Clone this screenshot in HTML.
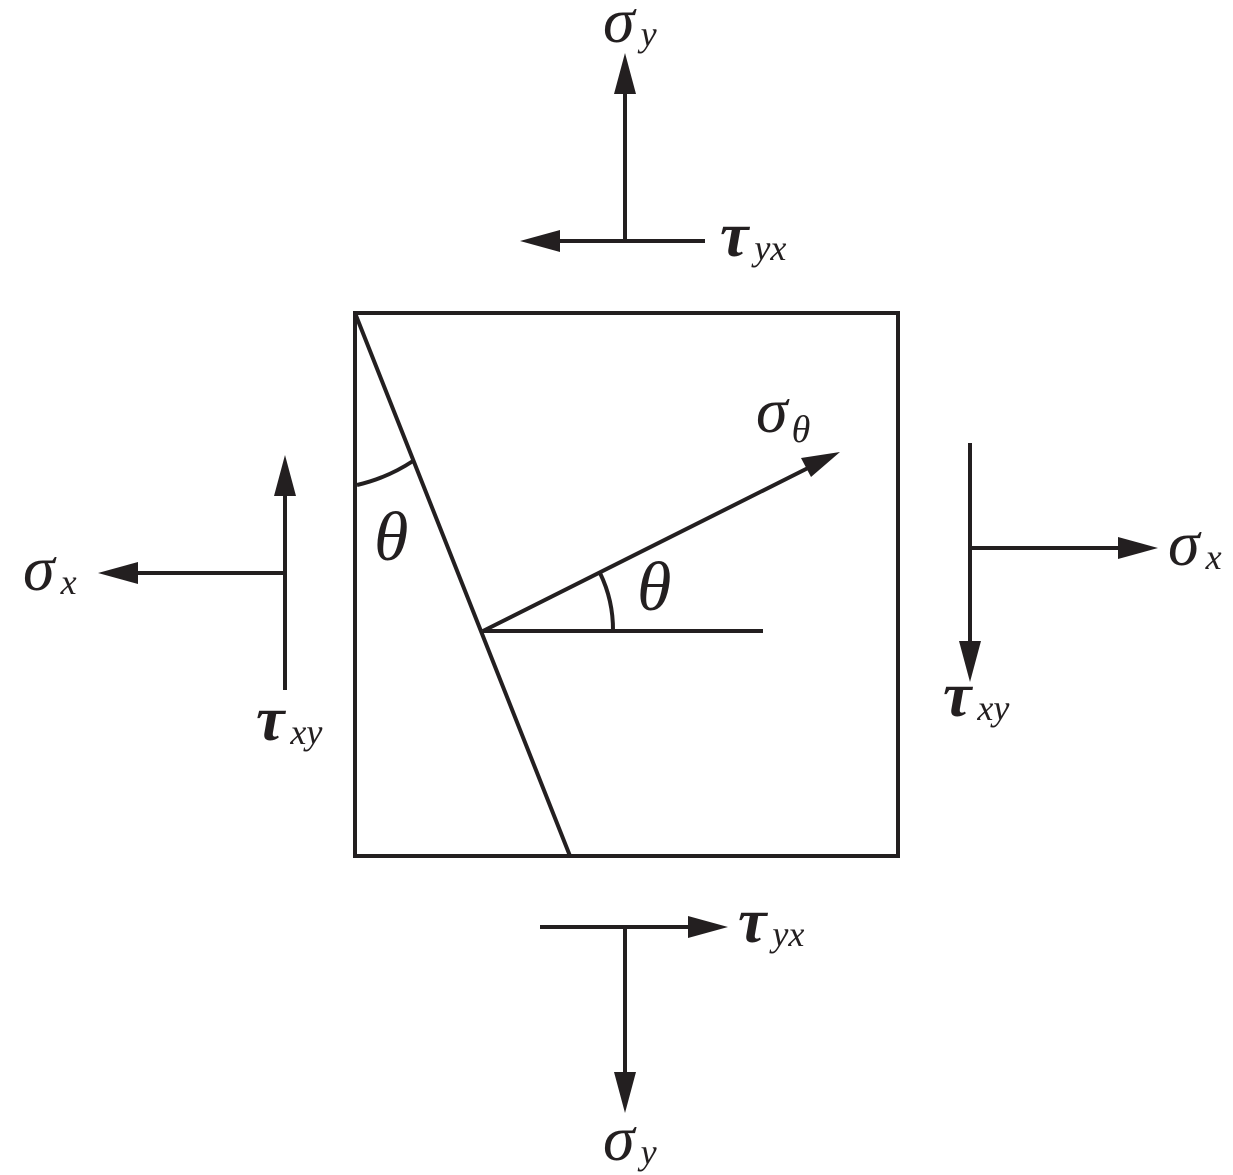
<!DOCTYPE html>
<html><head><meta charset="utf-8"><style>
html,body{margin:0;padding:0;background:#fff}
svg{display:block}
text{font-family:"Liberation Serif",serif;font-style:italic;fill:#231f20}
.b{font-weight:bold}
</style></head><body>
<svg width="1233" height="1175" viewBox="0 0 1233 1175" xmlns="http://www.w3.org/2000/svg">
<g stroke="#231f20" stroke-width="4" fill="none">
<rect x="355" y="313" width="543" height="543"/>
<line x1="355" y1="313" x2="570" y2="856"/>
<path d="M357 485 A172 172 0 0 0 413 461"/>
<line x1="483" y1="631" x2="763" y2="631"/>
<line x1="483" y1="631" x2="812" y2="466"/>
<path d="M613 631 A130 130 0 0 0 600 573"/>
<line x1="625" y1="241" x2="625" y2="90"/>
<line x1="705" y1="241" x2="555" y2="241"/>
<line x1="285" y1="690" x2="285" y2="492"/>
<line x1="285" y1="573" x2="133" y2="573"/>
<line x1="970" y1="443" x2="970" y2="645"/>
<line x1="970" y1="548" x2="1122" y2="548"/>
<line x1="540" y1="927" x2="692" y2="927"/>
<line x1="625" y1="927" x2="625" y2="1076"/>
</g>
<g fill="#231f20">
<polygon points="625,53 614,94 636,94"/>
<polygon points="520,241 560,230 560,252"/>
<polygon points="285,455 274,496 296,496"/>
<polygon points="98,573 138,562 138,584"/>
<polygon points="970,682 959,641 981,641"/>
<polygon points="1158,548 1118,537 1118,559"/>
<polygon points="728,927 688,916 688,938"/>
<polygon points="625,1113 614,1072 636,1072"/>
<polygon points="840,452 801,458 811,477"/>
</g>
<text x="603" y="42" font-size="64">σ<tspan font-size="36" dx="6" dy="4">y</tspan></text>
<text x="720" y="256" font-size="64" class="b">τ<tspan font-size="36" dx="6" dy="4" font-weight="normal">yx</tspan></text>
<text x="23" y="590" font-size="64">σ<tspan font-size="36" dx="6" dy="4">x</tspan></text>
<text x="256" y="740" font-size="64" class="b">τ<tspan font-size="36" dx="6" dy="4" font-weight="normal">xy</tspan></text>
<text x="1168" y="565" font-size="64">σ<tspan font-size="36" dx="6" dy="4">x</tspan></text>
<text x="943" y="716" font-size="64" class="b">τ<tspan font-size="36" dx="6" dy="4" font-weight="normal">xy</tspan></text>
<text x="738" y="942" font-size="64" class="b">τ<tspan font-size="36" dx="6" dy="4" font-weight="normal">yx</tspan></text>
<text x="603" y="1160" font-size="64">σ<tspan font-size="36" dx="6" dy="4">y</tspan></text>
<text x="756" y="432" font-size="64">σ<tspan font-size="38" dx="4" dy="10">θ</tspan></text>
<text x="374" y="560" font-size="70">θ</text>
<text x="637" y="610" font-size="70">θ</text>
</svg>
</body></html>
